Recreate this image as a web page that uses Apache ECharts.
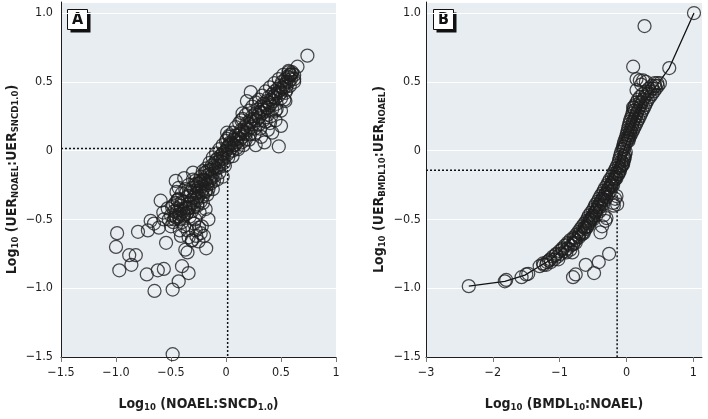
<!DOCTYPE html>
<html><head><meta charset="utf-8">
<script src="https://cdn.jsdelivr.net/npm/echarts@6/dist/echarts.min.js"></script>
<style>html,body{margin:0;padding:0;background:#fff}#c{width:708px;height:419px}</style>
</head><body><div id="c"></div>
<script>
// ---------- tick labels ----------
const xTicksA = [-1.5, -1, -0.5, 0, 0.5, 1];
const xTickLabelsA = ['\u22121.5', '\u22121.0', '\u22120.5', '0', '0.5', '1'];
const xTicksB = [-3, -2, -1, 0, 1];
const xTickLabelsB = ['\u22123', '\u22122', '\u22121', '0', '1'];
const yTicks = [-1.5, -1, -0.5, 0, 0.5, 1];
const yTickLabels = ['\u22121.5', '\u22121.0', '\u22120.5', '0', '0.5', '1.0'];

// ---------- panel A data ----------
const aBand = [[-0.50,-0.47],[-0.49,-0.41],[-0.48,-0.52],[-0.47,-0.44],[-0.46,-0.38],[-0.45,-0.49],[-0.44,-0.42],[-0.43,-0.35],[-0.42,-0.46],[-0.41,-0.40],[-0.40,-0.31],[-0.39,-0.44],[-0.38,-0.37],[-0.37,-0.28],[-0.36,-0.41],[-0.35,-0.33],[-0.34,-0.25],[-0.33,-0.38],[-0.32,-0.30],[-0.31,-0.44],[-0.30,-0.27],[-0.29,-0.34],[-0.28,-0.22],[-0.27,-0.31],[-0.26,-0.39],[-0.25,-0.24],[-0.24,-0.29],[-0.23,-0.19],[-0.22,-0.26],[-0.21,-0.33],[-0.20,-0.21],[-0.19,-0.16],[-0.18,-0.24],[-0.17,-0.18],[-0.16,-0.28],[-0.15,-0.14],[-0.14,-0.19],[-0.13,-0.11],[-0.12,-0.17],[-0.11,-0.22],[-0.10,-0.09],[-0.09,-0.13],[-0.08,-0.06],[-0.07,-0.11],[-0.06,-0.16],[-0.05,-0.04],[-0.04,-0.08],[-0.03,-0.02],[-0.02,-0.06],[-0.01,-0.11],[0.00,0.00],[0.01,-0.03],[0.02,0.03],[0.03,-0.01],[0.04,0.06],[0.05,0.02],[0.06,-0.04],[0.07,0.08],[0.08,0.04],[0.09,0.11],[0.10,0.06],[0.11,0.01],[0.12,0.12],[0.13,0.08],[0.14,0.15],[0.15,0.10],[0.16,0.04],[0.17,0.17],[0.18,0.12],[0.19,0.20],[0.20,0.15],[0.21,0.08],[0.22,0.22],[0.23,0.17],[0.24,0.25],[0.25,0.19],[0.26,0.12],[0.27,0.27],[0.28,0.22],[0.29,0.30],[0.30,0.24],[0.31,0.16],[0.32,0.32],[0.33,0.27],[0.34,0.34],[0.35,0.29],[0.36,0.21],[0.37,0.36],[0.38,0.31],[0.39,0.39],[0.40,0.33],[0.41,0.25],[0.42,0.41],[0.43,0.36],[0.44,0.43],[0.45,0.38],[0.46,0.30],[0.47,0.45],[0.48,0.40],[0.49,0.47],[0.50,0.42],[0.51,0.50],[0.52,0.45],[0.53,0.37],[0.54,0.52],[0.55,0.47],[0.56,0.54],[0.57,0.50],[0.58,0.55],[0.59,0.52],[0.60,0.57],[0.62,0.55]];
const aBandUpper = [[-0.44,-0.36],[-0.40,-0.37],[-0.36,-0.30],[-0.33,-0.33],[-0.30,-0.21],[-0.27,-0.26],[-0.24,-0.22],[-0.21,-0.15],[-0.18,-0.13],[-0.15,-0.09],[-0.12,-0.05],[-0.09,-0.02],[-0.06,0.01],[-0.03,0.04],[0.00,0.07],[0.03,0.10],[0.06,0.13],[0.09,0.17],[0.12,0.20],[0.15,0.23],[0.18,0.26],[0.21,0.29],[0.24,0.32],[0.27,0.35],[0.30,0.37],[0.33,0.40],[0.36,0.43],[0.40,0.46],[0.44,0.49],[0.48,0.52],[0.52,0.55],[0.57,0.57]];
const aBandLower = [[-0.42,-0.50],[-0.38,-0.47],[-0.34,-0.42],[-0.30,-0.38],[-0.26,-0.34],[-0.22,-0.30],[-0.18,-0.29],[-0.14,-0.24],[-0.10,-0.18],[-0.06,-0.12],[-0.02,-0.09],[0.02,-0.05],[0.06,0.00],[0.10,0.02],[0.14,0.06],[0.18,0.08],[0.22,0.12],[0.26,0.16],[0.30,0.19],[0.34,0.22],[0.38,0.26],[0.42,0.30],[0.46,0.34],[0.50,0.38],[0.54,0.42],[0.58,0.47],[0.62,0.50]];
const aBandMid = [[-0.29,-0.29],[-0.27,-0.24],[-0.25,-0.27],[-0.23,-0.23],[-0.21,-0.21],[-0.19,-0.22],[-0.17,-0.15],[-0.15,-0.17],[-0.13,-0.14],[-0.11,-0.12],[-0.09,-0.07],[-0.07,-0.08],[-0.05,-0.06],[-0.03,-0.05],[-0.01,-0.01],[0.01,0.02],[0.03,0.04],[0.05,0.05],[0.07,0.04],[0.09,0.08],[0.11,0.09],[0.13,0.12],[0.15,0.14],[0.17,0.13],[0.19,0.16],[0.21,0.19],[0.23,0.21],[0.25,0.23],[0.27,0.22],[0.29,0.26],[0.31,0.28],[0.33,0.30],[0.35,0.33],[0.37,0.31],[0.39,0.35],[0.41,0.37],[0.43,0.39],[0.45,0.41],[0.47,0.42],[0.49,0.44],[0.51,0.46],[0.53,0.48],[0.55,0.50],[0.57,0.53],[0.59,0.55],[-0.47,-0.50],[-0.45,-0.45],[-0.43,-0.48],[-0.41,-0.43],[-0.39,-0.48],[-0.37,-0.42],[-0.35,-0.45],[-0.33,-0.41],[-0.31,-0.36],[-0.29,-0.41],[-0.27,-0.35],[-0.25,-0.33],[-0.23,-0.37],[-0.21,-0.28],[-0.19,-0.30],[-0.17,-0.25],[-0.15,-0.22],[-0.13,-0.20]];
const aLowCloud = [[-0.99,-0.60],[-1.00,-0.70],[-0.97,-0.87],[-0.88,-0.76],[-0.82,-0.76],[-0.86,-0.83],[-0.80,-0.59],[-0.72,-0.90],[-0.65,-1.02],[-0.71,-0.58],[-0.62,-0.87],[-0.565,-0.86],[-0.545,-0.67],[-0.485,-1.01],[-0.43,-0.95],[-0.40,-0.84],[-0.34,-0.89],[-0.485,-1.48],[-0.37,-0.72],[-0.35,-0.74],[-0.18,-0.71],[-0.25,-0.66],[-0.27,-0.62],[-0.31,-0.65],[-0.594,-0.364],[-0.685,-0.51],[-0.655,-0.53],[-0.61,-0.56],[-0.565,-0.50],[-0.52,-0.50],[-0.40,-0.52],[-0.03,-0.19],[-0.457,-0.22],[-0.43,-0.27],[-0.34,-0.63],[-0.31,-0.655],[-0.275,-0.58],[-0.245,-0.56],[-0.185,-0.425],[-0.50,-0.55],[-0.46,-0.48],[-0.42,-0.58],[-0.38,-0.55],[-0.33,-0.48],[-0.28,-0.50],[-0.24,-0.45],[-0.22,-0.55],[-0.20,-0.62],[-0.16,-0.50],[-0.45,-0.30],[-0.53,-0.42],[-0.57,-0.45],[-0.30,-0.16],[-0.38,-0.20],[-0.48,-0.40],[-0.44,-0.36],[-0.36,-0.46],[-0.26,-0.40],[-0.21,-0.38],[-0.17,-0.32],[-0.12,-0.28],[-0.08,-0.21],[-0.41,-0.62],[-0.23,-0.60],[-0.29,-0.53],[-0.35,-0.58]];
const aHighScatter = [[0.74,0.69],[0.65,0.61],[0.60,0.56],[0.57,0.58],[0.225,0.425],[0.19,0.36],[0.15,0.27],[0.54,0.36],[0.50,0.29],[0.45,0.29],[0.50,0.18],[0.42,0.13],[0.48,0.03],[0.27,0.04],[0.03,0.11],[0.01,0.13],[0.01,0.085],[0.38,0.15],[0.45,0.22],[0.32,0.10],[0.40,0.20],[0.62,0.52],[0.35,0.06],[0.55,0.44],[0.14,0.22]];
const aRefLine = [[-1.5,0.015],[0.015,0.015],[0.015,-1.5]];

// ---------- panel B data ----------
const bCurve = [[-2.36,-0.985],[-1.82,-0.95],[-1.52,-0.905],[-1.30,-0.84],[-1.12,-0.79],[-0.95,-0.71],[-0.78,-0.62],[-0.62,-0.52],[-0.48,-0.42],[-0.35,-0.32],[-0.22,-0.21],[-0.10,-0.09],[-0.04,0.0],[0.05,0.12],[0.16,0.25],[0.30,0.38],[0.46,0.48],[0.64,0.60],[1.01,1.0]];
const bOnLine = [[-2.36,-0.985],[-1.82,-0.95],[-1.80,-0.94],[-1.57,-0.92],[-1.50,-0.90],[-1.47,-0.895],[-1.30,-0.84],[-1.25,-0.82],[0.64,0.60],[1.01,1.0]];
const bOutliers = [[-0.81,-0.74],[-0.80,-0.92],[-0.76,-0.90],[-0.61,-0.83],[-0.415,-0.81],[-0.485,-0.89],[-0.26,-0.75],[-0.39,-0.595],[-0.365,-0.55],[-0.315,-0.51],[-0.34,-0.47],[-0.30,-0.49],[-0.19,-0.40],[-0.14,-0.39],[-0.20,-0.38],[-0.17,-0.35],[-0.15,-0.33],[0.27,0.905],[0.10,0.61],[0.15,0.52],[0.20,0.51],[0.25,0.51],[0.29,0.50],[0.22,0.48],[0.15,0.44],[0.10,0.315],[0.125,0.29],[0.20,0.35]];
const bBandLow = [[-1.24,-0.83],[-1.20,-0.83],[-1.19,-0.81],[-1.13,-0.81],[-1.14,-0.79],[-1.08,-0.79],[-1.10,-0.77],[-1.03,-0.77],[-1.05,-0.75],[-0.98,-0.75],[-1.00,-0.73],[-0.92,-0.73],[-0.96,-0.71],[-0.88,-0.71],[-0.92,-0.69],[-0.83,-0.69],[-0.88,-0.67],[-0.79,-0.67],[-0.84,-0.65],[-0.76,-0.65],[-0.79,-0.63],[-0.71,-0.63],[-0.75,-0.61],[-0.67,-0.61],[-0.72,-0.59],[-0.64,-0.59],[-0.69,-0.57],[-0.61,-0.57],[-0.66,-0.55],[-0.59,-0.55],[-0.63,-0.53],[-0.56,-0.53],[-0.60,-0.51],[-0.54,-0.51],[-0.58,-0.49],[-0.52,-0.49],[-0.56,-0.47],[-0.50,-0.47],[-0.53,-0.45],[-0.47,-0.45],[-0.50,-0.43],[-0.45,-0.43],[-0.48,-0.41],[-0.43,-0.41],[-0.46,-0.39],[-0.41,-0.39],[-0.43,-0.37],[-0.38,-0.37],[-0.41,-0.35],[-0.36,-0.35],[-0.39,-0.33],[-0.33,-0.33],[-0.36,-0.31],[-0.31,-0.31],[-0.34,-0.29],[-0.28,-0.29],[-0.32,-0.27],[-0.26,-0.27],[-0.29,-0.25],[-0.23,-0.25],[-0.27,-0.23],[-0.21,-0.23],[-0.25,-0.21],[-0.18,-0.21],[-0.22,-0.19],[-0.16,-0.19],[-0.20,-0.17],[-0.13,-0.17],[-0.18,-0.15],[-0.11,-0.15],[-0.16,-0.13],[-0.09,-0.13],[-0.14,-0.11],[-0.07,-0.11],[-0.12,-0.09],[-0.05,-0.09],[-0.11,-0.07],[-0.04,-0.07],[-0.10,-0.05],[-0.03,-0.05],[-0.09,-0.03],[-0.02,-0.03],[-0.08,-0.01],[-0.01,-0.01]];
const bBandTexture = [[-1.02,-0.79],[-0.90,-0.74],[-0.80,-0.68],[-0.72,-0.62],[-0.62,-0.56],[-0.55,-0.50],[-0.47,-0.45],[-0.40,-0.41],[-0.33,-0.36],[-0.27,-0.31],[-0.22,-0.26],[-0.17,-0.21],[-0.12,-0.17],[-0.07,-0.11],[-0.03,-0.06],[-1.16,-0.80],[-1.06,-0.76],[-0.96,-0.72],[-0.87,-0.68],[-0.78,-0.64],[-0.70,-0.60],[-0.63,-0.56],[-0.57,-0.52],[-0.51,-0.48],[-0.46,-0.44],[-0.41,-0.40],[-0.37,-0.36],[-0.32,-0.32],[-0.28,-0.28],[-0.23,-0.24],[-0.19,-0.20],[-0.15,-0.16],[-0.11,-0.12],[-0.07,-0.08],[-0.04,-0.04],[-0.50,-0.50],[-0.45,-0.47],[-0.40,-0.44],[-0.35,-0.39],[-0.30,-0.34],[-0.25,-0.30],[-0.20,-0.25],[-0.15,-0.20],[-0.10,-0.15],[-0.05,-0.10],[-0.64,-0.60],[-0.58,-0.55],[-0.84,-0.72],[-0.76,-0.67]];
const bBandHigh = [[-0.06,0.01],[-0.04,0.01],[-0.05,0.03],[-0.03,0.03],[-0.04,0.05],[-0.01,0.05],[-0.03,0.07],[0.01,0.07],[0.03,0.07],[-0.01,0.09],[0.02,0.09],[0.04,0.09],[0.00,0.11],[0.03,0.11],[0.06,0.11],[0.01,0.13],[0.05,0.13],[0.08,0.13],[0.02,0.15],[0.06,0.15],[0.10,0.15],[0.03,0.17],[0.08,0.17],[0.12,0.17],[0.04,0.19],[0.09,0.19],[0.14,0.19],[0.05,0.21],[0.10,0.21],[0.16,0.21],[0.06,0.23],[0.12,0.23],[0.18,0.23],[0.08,0.25],[0.14,0.25],[0.20,0.25],[0.09,0.27],[0.15,0.27],[0.22,0.27],[0.10,0.29],[0.17,0.29],[0.24,0.29],[0.11,0.31],[0.19,0.31],[0.26,0.31],[0.13,0.33],[0.21,0.33],[0.28,0.33],[0.15,0.35],[0.23,0.35],[0.30,0.35],[0.17,0.37],[0.25,0.37],[0.32,0.37],[0.20,0.39],[0.27,0.39],[0.35,0.39],[0.24,0.41],[0.31,0.41],[0.38,0.41],[0.29,0.43],[0.35,0.43],[0.41,0.43],[0.33,0.45],[0.39,0.45],[0.44,0.45],[0.38,0.47],[0.43,0.47],[0.47,0.47],[0.42,0.49],[0.46,0.49],[0.50,0.49]];
const bRefLine = [[-3,-0.143],[-0.14,-0.143],[-0.14,-1.5]];

// ---------- styling ----------
const FONT = "'Liberation Sans Narrow','DejaVu Sans Condensed','Roboto Condensed',sans-serif";
const INK = '#1e1e1e';
const BG = '#e8edf2';
function lab(ticks, labels) {
  return function (v) {
    const i = ticks.findIndex(t => Math.abs(t - v) < 1e-6);
    return i < 0 ? '' : labels[i];
  };
}
const nameStyle = {
  fontFamily: FONT, fontWeight: 'bold', fontSize: 14, color: INK, lineHeight: 18,
  rich: {
    b: { fontFamily: FONT, fontWeight: 'bold', fontSize: 14, color: INK, lineHeight: 18 },
    s: { fontFamily: FONT, fontWeight: 'bold', fontSize: 9.5, color: INK, lineHeight: 11, verticalAlign: 'bottom' }
  }
};
function xAxisCfg(idx, min, max, ticks, labels, name) {
  return {
    type: 'value', gridIndex: idx, min: min, max: max,
    axisLine: { show: true, onZero: false, lineStyle: { color: INK, width: 1 } },
    axisTick: { show: true, customValues: ticks, length: 5, lineStyle: { color: '#777' } },
    axisLabel: { customValues: ticks, formatter: lab(ticks, labels), fontFamily: FONT, fontSize: 12.5, color: INK, margin: 9 },
    splitLine: { show: false },
    name: name, nameLocation: 'middle', nameGap: 38, nameTextStyle: nameStyle
  };
}
function yAxisCfg(idx, name, margin, gap) {
  return {
    type: 'value', gridIndex: idx, min: -1.5, max: 1.08, interval: 0.5,
    axisLine: { show: true, onZero: false, lineStyle: { color: INK, width: 1 } },
    axisTick: { show: false },
    axisLabel: { formatter: lab(yTicks, yTickLabels), fontFamily: FONT, fontSize: 12.5, color: INK, margin: margin },
    splitLine: { show: true, lineStyle: { color: '#ffffff', width: 1 } },
    name: name, nameLocation: 'middle', nameGap: gap, nameRotate: 90, nameTextStyle: nameStyle
  };
}
const circ = { color: 'rgba(0,0,0,0)', borderColor: INK, borderWidth: 1.25 };
function scat(x, data) {
  return { type: 'scatter', xAxisIndex: x, yAxisIndex: x, data: data, symbol: 'circle', symbolSize: 13,
    itemStyle: circ, emphasis: { disabled: true }, silent: true, z: 3 };
}
function boxLabel(x, y, t) {
  return {
    type: 'group', left: x, top: y, silent: true, children: [
      { type: 'rect', shape: { x: 3, y: 3, width: 20, height: 20 }, style: { fill: '#111' } },
      { type: 'rect', shape: { x: 0, y: 0, width: 20, height: 20 }, style: { fill: '#fff', stroke: '#111', lineWidth: 1 } },
      { type: 'text', x: 10, y: 10.5, style: { text: t, fontFamily: FONT, fontWeight: 'bold', fontSize: 16, fill: '#111', align: 'center', verticalAlign: 'middle' } }
    ]
  };
}

const chart = echarts.init(document.getElementById('c'), null, { renderer: 'canvas' });
chart.setOption({
  animation: false,
  backgroundColor: '#ffffff',
  grid: [
    { left: 61, top: 2, width: 275, height: 355, show: true, backgroundColor: BG, borderWidth: 0, outerBoundsMode: 'none' },
    { left: 426, top: 2, width: 276, height: 355, show: true, backgroundColor: BG, borderWidth: 0, outerBoundsMode: 'none' }
  ],
  xAxis: [
    xAxisCfg(0, -1.5, 1, xTicksA, xTickLabelsA, '{b|Log}{s|10}{b| (NOAEL:SNCD}{s|1.0}{b|)}'),
    xAxisCfg(1, -3, 1.13, xTicksB, xTickLabelsB, '{b|Log}{s|10}{b| (BMDL}{s|10}{b|:NOAEL)}')
  ],
  yAxis: [
    yAxisCfg(0, '{b|Log}{s|10}{b| (UER}{s|NOAEL}{b|:UER}{s|SNCD1.0}{b|)}', 8, 40),
    yAxisCfg(1, '{b|Log}{s|10}{b| (UER}{s|BMDL10}{b|:UER}{s|NOAEL}{b|)}', 5, 38)
  ],
  graphic: [boxLabel(67, 9, 'A'), boxLabel(433, 9, 'B')],
  series: [
    { type: 'line', xAxisIndex: 0, yAxisIndex: 0, data: aRefLine, showSymbol: false, silent: true, z: 2,
      lineStyle: { color: '#111', width: 1.5, type: [2, 2] } },
    scat(0, aLowCloud), scat(0, aBand), scat(0, aBandUpper), scat(0, aBandLower), scat(0, aBandMid), scat(0, aHighScatter),
    { type: 'line', xAxisIndex: 1, yAxisIndex: 1, data: bRefLine, showSymbol: false, silent: true, z: 2,
      lineStyle: { color: '#111', width: 1.5, type: [2, 2] } },
    { type: 'line', xAxisIndex: 1, yAxisIndex: 1, data: bCurve, showSymbol: false, silent: true, z: 2,
      lineStyle: { color: '#111', width: 1.3 } },
    scat(1, bBandLow), scat(1, bBandTexture), scat(1, bBandHigh), scat(1, bOnLine), scat(1, bOutliers)
  ]
});
</script></body></html>
